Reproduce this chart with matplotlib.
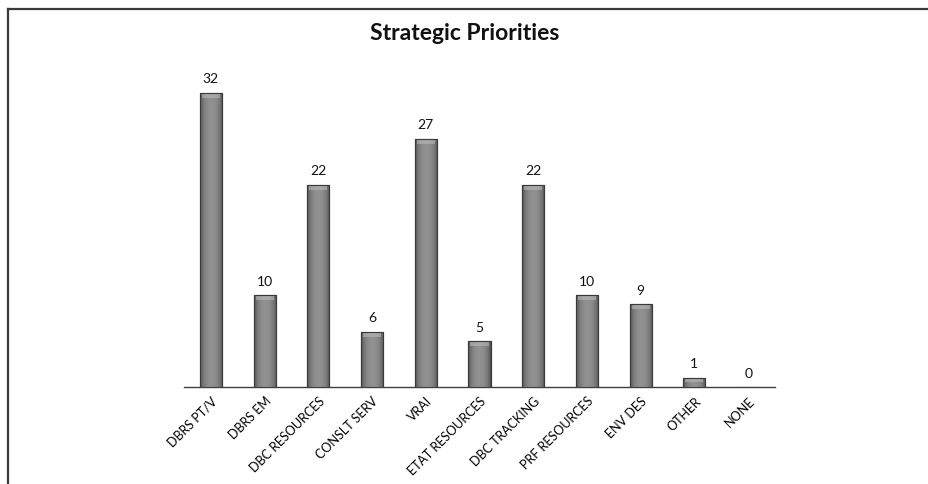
import numpy as np
import matplotlib
matplotlib.use("Agg")
import matplotlib.pyplot as plt
from matplotlib.lines import Line2D

categories = ["DBRS PT/V", "DBRS EM", "DBC RESOURCES", "CONSLT SERV", "VRAI",
              "ETAT RESOURCES", "DBC TRACKING", "PRF RESOURCES", "ENV DES",
              "OTHER", "NONE"]
counts = [32, 10, 22, 6, 27, 5, 22, 10, 9, 1, 0]

plt.rcParams["font.family"] = ["Lato", "DejaVu Sans"]

W, H = 929, 485
fig = plt.figure(figsize=(W / 100, H / 100), dpi=100)

# plot area: baseline at y=388px, x from 184 to 775px
ax = fig.add_axes([184 / W, 1 - 388 / H, (775 - 184) / W, (388 - 66) / H])
x = np.arange(len(categories))
width = 0.41
bars = ax.bar(x, counts, width=width, color="#7a7a7a", edgecolor="#3c3c3c",
              linewidth=0.8, zorder=2)

# horizontal shading across each bar: dark edges, lighter middle
t = np.linspace(-1, 1, 64)
shade = 0.27 + 0.30 * (1 - t ** 2) ** 0.6
grad = np.tile(shade, (2, 1))
for b, v in zip(bars, counts):
    if v <= 0:
        continue
    x0 = b.get_x()
    im = ax.imshow(grad, cmap="gray", vmin=0, vmax=1, aspect="auto",
                   extent=(x0, x0 + width, 0, v), zorder=3)
    im.set_clip_path(b)
    # bevelled cap
    cap = min(0.55, v * 0.45)
    ax.bar(b.get_x() + width / 2, cap, bottom=v - cap, width=width * 0.82,
           color="#b8b8b8", linewidth=0, alpha=0.6, zorder=4)
    ax.bar(b.get_x() + width / 2, v, width=width, fill=False,
           edgecolor="#3a3a3a", linewidth=0.8, zorder=5)

for xi, v in zip(x, counts):
    ax.annotate(str(v), (xi, v), xytext=(0, 6), textcoords="offset points",
                ha="center", va="bottom", fontsize=10, color="#111111")

ax.set_xlim(-0.5, len(categories) - 0.5)
ax.set_ylim(0, 35)
ax.set_yticks([])
ax.set_xticks(x)
ax.set_xticklabels(categories, rotation=45, ha="right", va="top",
                   rotation_mode="anchor", fontsize=9)
ax.tick_params(axis="x", length=0, pad=5)
for s in ("top", "right", "left"):
    ax.spines[s].set_visible(False)
ax.spines["bottom"].set_color("#404040")
ax.spines["bottom"].set_linewidth(1.0)

fig.text(0.5, 1 - 34 / H, "Strategic Priorities", ha="center", va="center",
         fontsize=16.5, fontweight="bold", color="#111111")

# outer frame (left and top edges)
fig.add_artist(Line2D([8 / W, 8 / W], [0, 1 - 9.5 / H], color="#3a3a3a",
                      linewidth=1.6, transform=fig.transFigure))
fig.add_artist(Line2D([8 / W, 1], [1 - 9.5 / H, 1 - 9.5 / H], color="#3a3a3a",
                      linewidth=1.6, transform=fig.transFigure))

fig.savefig("out.png", dpi=100)
